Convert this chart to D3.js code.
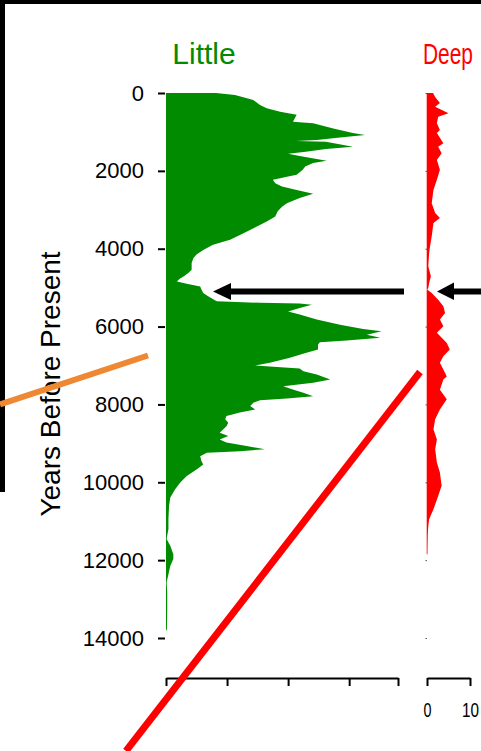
<!DOCTYPE html>
<html><head><meta charset="utf-8">
<script src="https://cdn.jsdelivr.net/npm/d3@7"></script>
<style>
html,body{margin:0;padding:0;background:#fff;}
svg{display:block;font-family:"Liberation Sans",Arial,Helvetica,sans-serif;}
</style></head>
<body>
<svg id="c" width="481" height="751"></svg>
<script>
// ---- data ----
const yTicks = [0,2000,4000,6000,8000,10000,12000,14000];
const littleTicks = [0,10,20,30,38];
const deepTicks = [0,10];

const littleAge = [0,50,180,310,390,480,560,740,780,910,1030,1080,1140,1210,1230,1250,1380,1440,1510,1560,1620,1740,1800,1890,1970,2100,2150,2190,2230,2320,2400,2490,2590,2700,2830,2920,3040,3170,3300,3430,3600,3770,3900,4030,4150,4240,4370,4540,4620,4700,4780,4840,4900,4970,5050,5140,5220,5350,5390,5410,5440,5520,5610,5690,5820,5950,6060,6120,6210,6290,6360,6400,6460,6590,6670,6800,6930,7000,7030,7080,7150,7230,7360,7440,7530,7620,7700,7790,7850,7890,7960,8040,8130,8210,8300,8380,8470,8560,8640,8730,8810,8900,8980,9070,9150,9200,9240,9330,9450,9540,9670,9840,10010,10180,10390,10610,10950,11200,11460,11630,11850,11970,12150,12360,12570,12820,13260,13770,13820];
const littleVal = [8.2,11.3,14.3,15.4,16.5,18.7,21.4,20.8,24.1,27.4,30.6,32.6,28.5,24.7,21.3,26.2,30.6,26.2,22.9,20.0,21.9,26.3,24.1,22.8,22.4,21.4,19.8,18.7,17.5,17.9,19.0,21.4,24.1,21.9,19.8,19.0,18.3,17.9,16.5,14.9,12.7,10.5,7.7,6.1,5.0,4.5,4.2,4.2,3.7,3.0,2.2,1.8,3.4,5.6,5.8,6.1,6.9,8.3,15.4,21.9,23.9,21.9,20.0,21.9,24.7,28.5,32.3,35.3,32.9,35.1,29.6,25.2,24.9,24.9,23.0,20.3,17.0,14.6,17.6,21.9,22.5,24.7,26.9,24.1,19.2,20.9,22.5,24.1,19.8,15.4,14.3,13.8,14.6,12.1,9.9,9.7,10.2,9.9,9.4,8.8,10.2,8.8,9.9,13.2,16.2,12.1,6.7,5.6,5.8,6.1,5.0,3.4,2.3,1.5,0.7,0.5,0.4,0.4,0.1,0.7,1.2,1.2,0.7,0.4,0.1,0.2,0.2,0.15,0];

const deepAge = [0,100,260,350,520,610,780,950,1030,1290,1380,1550,1720,1970,2230,2490,2830,3080,3210,3340,3680,3940,4110,4450,4710,4880,5010,5050,5140,5310,5480,5650,5820,5990,6160,6420,6590,6760,6930,7100,7280,7360,7620,7870,8130,8380,8640,8900,9150,9490,9750,10090,10350,10690,10950,11120,11380,11590,11850];
const deepVal = [1.4,1.9,3.0,1.9,5.0,2.6,2.3,3.0,2.3,3.8,2.6,3.4,2.3,3.0,2.3,1.5,1.1,1.9,3.0,1.5,1.1,0.7,0.5,0.3,0.9,0.5,0.3,0,1.1,2.6,3.8,4.2,3.0,3.8,2.3,4.6,5.3,3.8,3.0,3.8,4.6,3.8,3.0,4.6,3.0,1.9,1.5,2.3,1.9,2.3,3.0,3.4,2.6,1.5,0.5,0.3,0.15,0.1,0.05];

// ---- chart ----
const svg = d3.select("#c");
const y = d3.scaleLinear().domain([0,14000]).range([93,638]);
const xL = d3.scaleLinear().domain([0,38]).range([166,398]);
const xD = d3.scaleLinear().domain([0,10]).range([427,470]);

// frame
svg.append("rect").attr("x",0).attr("y",0).attr("width",481).attr("height",4).attr("fill","#000");
svg.append("rect").attr("x",0).attr("y",0).attr("width",5).attr("height",492).attr("fill","#000");

// titles
svg.append("text").attr("x",204).attr("y",64).attr("text-anchor","middle")
  .attr("font-size",30).attr("fill","#008B00").text("Little");
svg.append("text").attr("x",423).attr("y",64)
  .attr("font-size",30).attr("fill","#FF0000")
  .attr("textLength",50).attr("lengthAdjust","spacingAndGlyphs").text("Deep");

// y axis title
svg.append("text").attr("transform","translate(60,384) rotate(-90)")
  .attr("text-anchor","middle").attr("font-size",28).attr("fill","#000")
  .text("Years Before Present");

// Little area
const lData = littleAge.map((a,i)=>({a, v:littleVal[i]}));
svg.append("path").datum(lData)
  .attr("d", d3.area().y(d=>y(d.a)).x0(xL(0)).x1(d=>xL(d.v)))
  .attr("fill","#008B00");

// Deep area
const dData = deepAge.map((a,i)=>({a, v:deepVal[i]}));
svg.append("line").attr("x1",xD(0)).attr("x2",xD(0)).attr("y1",y(0)).attr("y2",y(11850))
  .attr("stroke","#ff9a9a").attr("stroke-width",1.5);
svg.append("path").datum(dData)
  .attr("d", d3.area().y(d=>y(d.a)).x0(xD(0)).x1(d=>xD(d.v)))
  .attr("fill","#FF0000");

// y axis (Little)
const ya = svg.append("g").attr("transform","translate(165,0)")
  .call(d3.axisLeft(y).tickValues(yTicks).tickSize(7).tickPadding(14).tickFormat(d3.format("d")));
ya.select(".domain").remove();
ya.selectAll(".tick line").attr("stroke","#000").attr("stroke-width",2);
ya.selectAll(".tick text").attr("font-size",22).attr("fill","#000")
  .attr("font-family","'Liberation Sans',Arial,sans-serif");

// y ticks on Deep (tiny)
const yd = svg.append("g").attr("transform",`translate(${xD(0)},0)`)
  .call(d3.axisLeft(y).tickValues(yTicks).tickSize(1.5).tickFormat(""));
yd.select(".domain").remove();
yd.selectAll(".tick line").attr("stroke","#555").attr("stroke-width",1);

// bottom axes
const xa = svg.append("g").attr("transform","translate(0,678)")
  .call(d3.axisBottom(xL).tickValues(littleTicks).tickSize(8).tickSizeOuter(0).tickFormat(""));
xa.select(".domain").attr("stroke","#000").attr("stroke-width",2);
xa.selectAll(".tick line").attr("stroke","#000").attr("stroke-width",2);

const xb = svg.append("g").attr("transform","translate(0,678)")
  .call(d3.axisBottom(xD).tickValues(deepTicks).tickSize(8).tickSizeOuter(0).tickPadding(17).tickFormat(d3.format("d")));
xb.select(".domain").attr("stroke","#000").attr("stroke-width",2);
xb.selectAll(".tick line").attr("stroke","#000").attr("stroke-width",2);
xb.selectAll(".tick text").attr("font-size",20).attr("fill","#000")
  .attr("font-family","'Liberation Sans',Arial,sans-serif")
  .attr("transform","scale(0.8,1)")
  .attr("x", function(){ return 0; });
// keep compressed labels centred on their ticks
xb.selectAll(".tick").each(function(d){
  const t = d3.select(this);
  t.select("text").attr("transform",null)
   .attr("textLength", d===10 ? 17 : 8).attr("lengthAdjust","spacingAndGlyphs");
});

// annotation lines
svg.append("line").attr("x1",0).attr("y1",404.5).attr("x2",148).attr("y2",355.5)
  .attr("stroke","#EE8833").attr("stroke-width",6);
svg.append("line").attr("x1",420).attr("y1",372).attr("x2",126).attr("y2",751)
  .attr("stroke","#FF0000").attr("stroke-width",7);

// arrows
svg.append("line").attr("x1",228).attr("y1",291.5).attr("x2",404).attr("y2",291.5)
  .attr("stroke","#000").attr("stroke-width",6);
svg.append("polygon").attr("points","213,291.5 231,283 231,300").attr("fill","#000");
svg.append("line").attr("x1",450).attr("y1",291.5).attr("x2",481).attr("y2",291.5)
  .attr("stroke","#000").attr("stroke-width",6);
svg.append("polygon").attr("points","437,291.5 454,282.5 454,300").attr("fill","#000");
</script>
</body></html>
